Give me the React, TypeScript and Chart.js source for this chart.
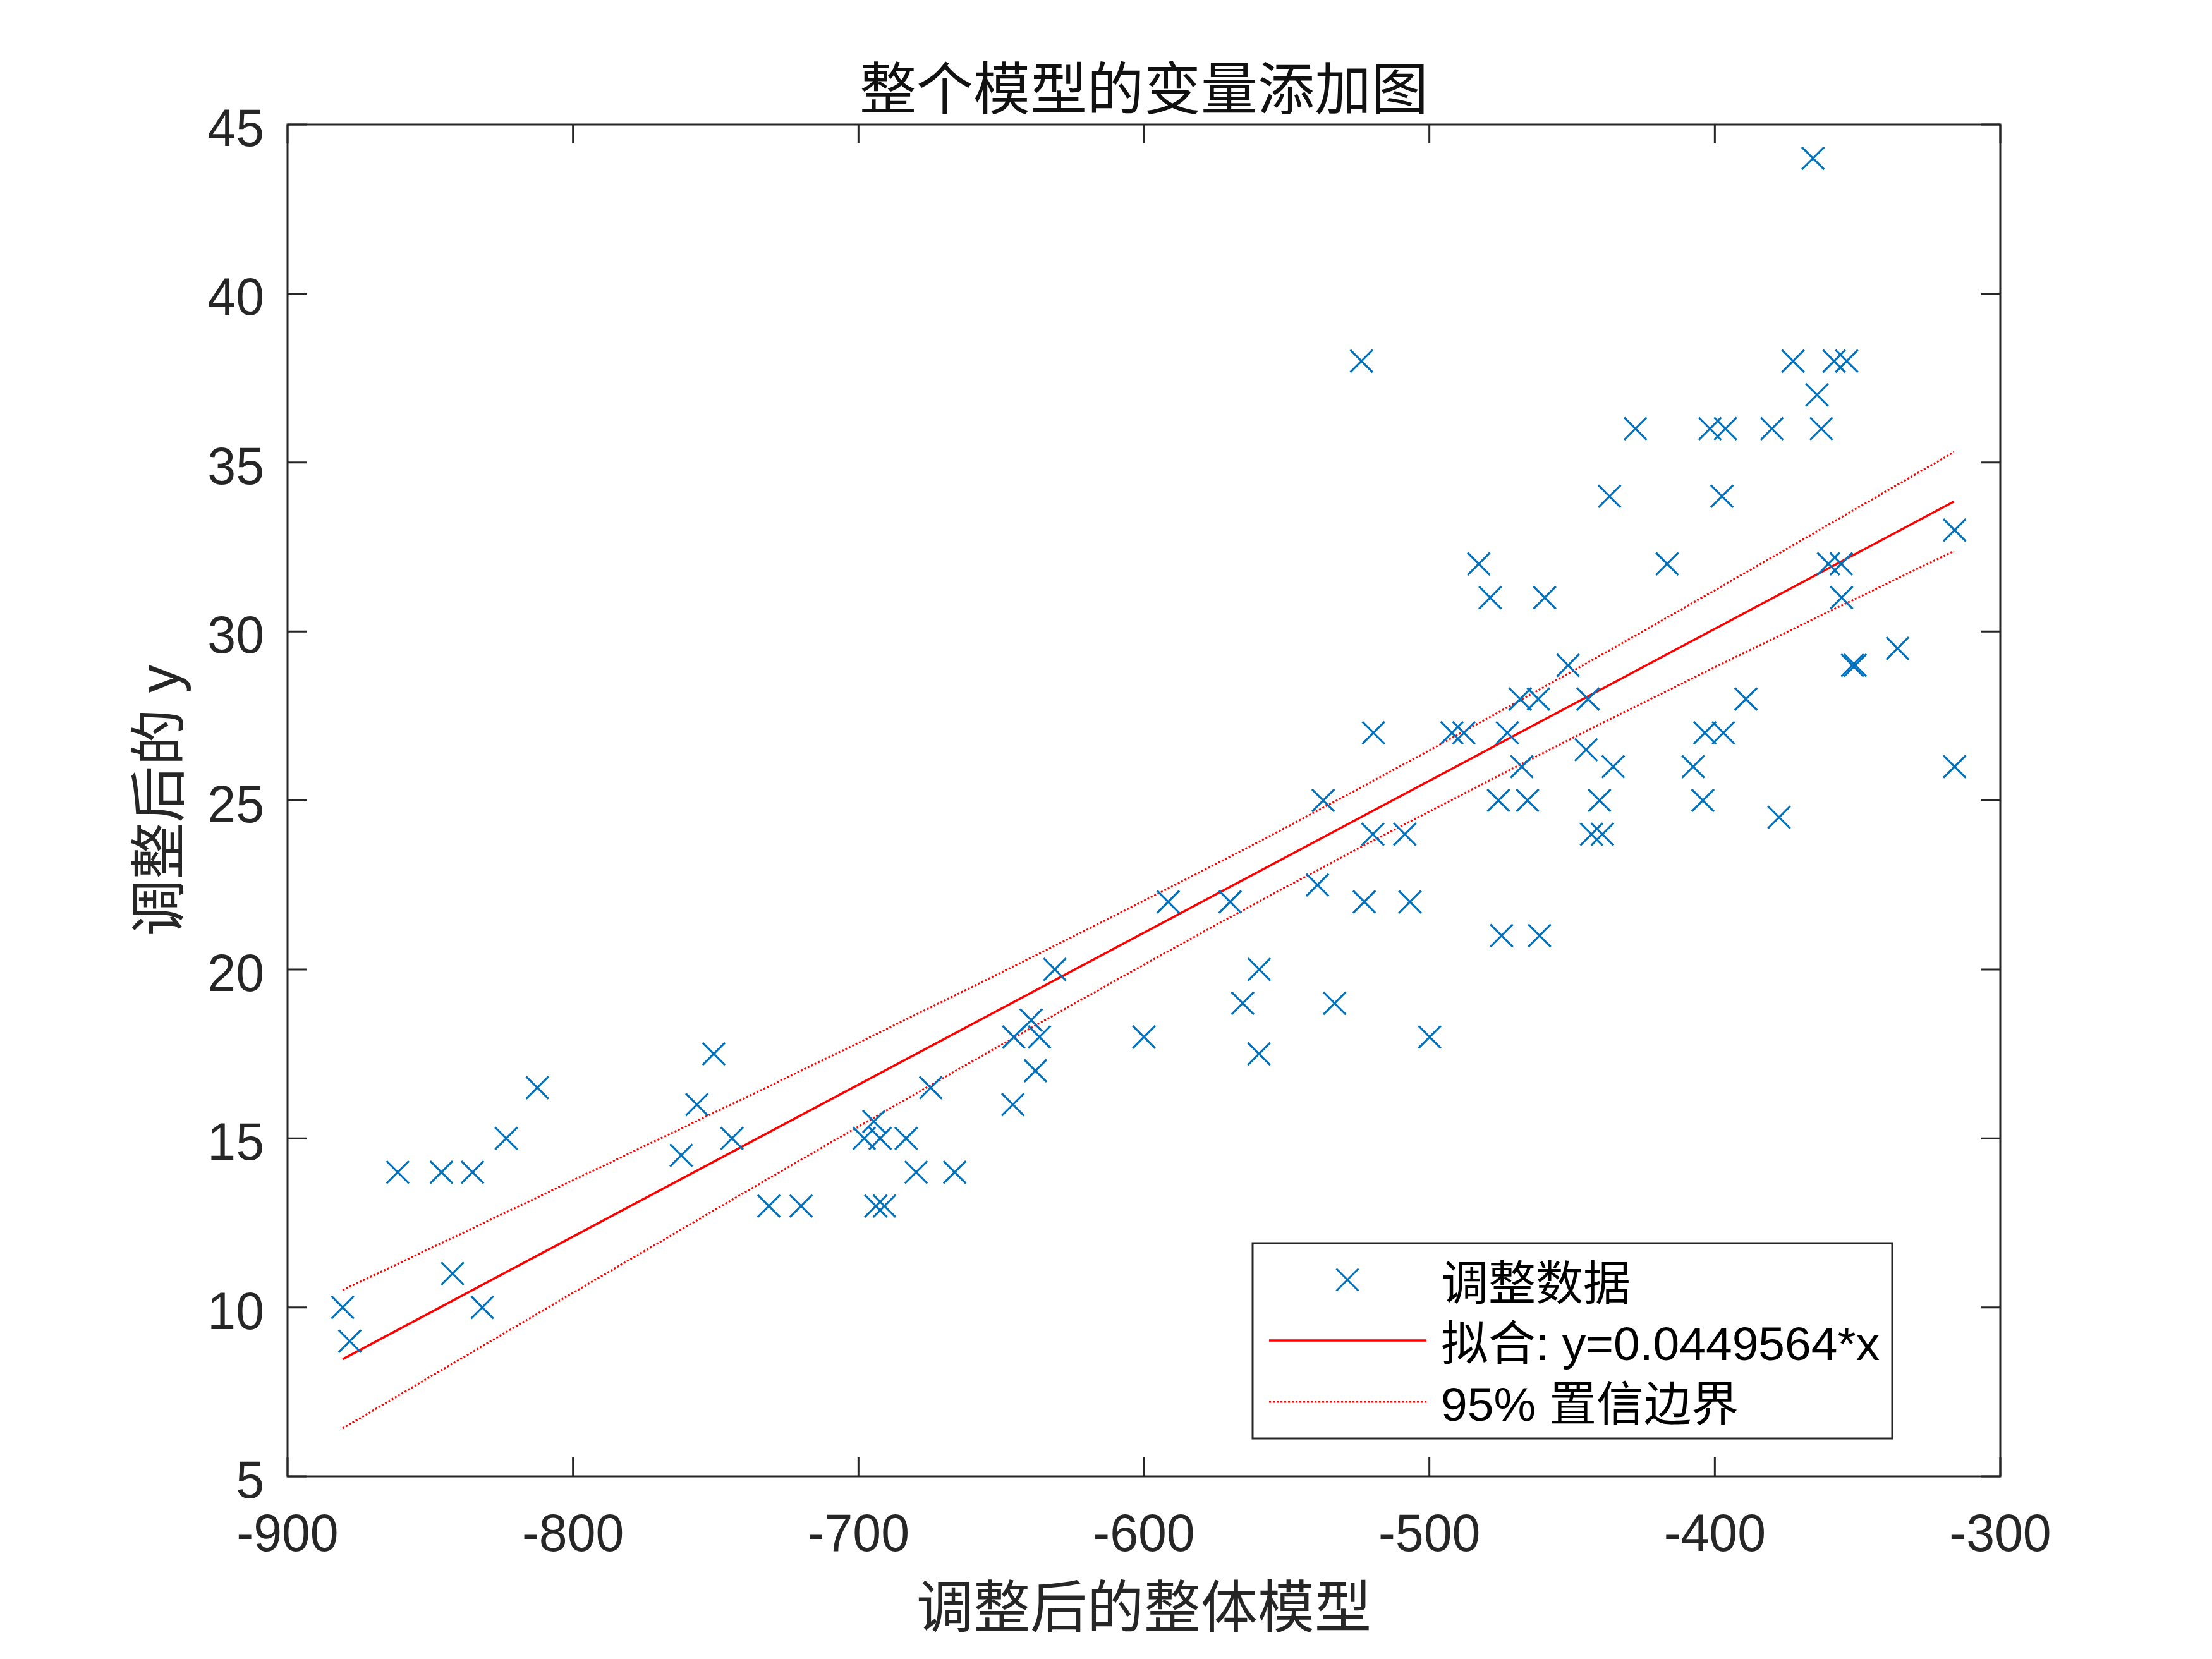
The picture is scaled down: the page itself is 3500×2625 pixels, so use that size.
import React, { useEffect, useRef } from "react";
import { Chart, registerables } from "chart.js";

Chart.register(...registerables);

// ---------- data ----------
const adjX = [
  -880.7, -878.2, -861.4, -846.1, -835.2, -842.2, -831.8, -823.4, -812.5, -762.1,
  -756.6, -750.7, -744.3, -731.4, -720.1, -698.0, -694.6, -692.4, -693.9, -690.9,
  -683.3, -679.8, -674.7, -666.3, -645.9, -645.6, -639.5, -636.6, -638.0, -631.2,
  -600.0, -591.5, -569.8, -565.4, -559.6, -559.7, -537.2, -539.2, -533.2, -523.8,
  -522.8, -519.6, -519.8, -508.6, -506.8, -499.9, -492.1, -487.9, -482.7, -478.7,
  -475.8, -474.7, -472.7, -468.2, -467.6, -465.6, -461.8, -461.4, -459.6, -451.4,
  -445.1, -444.4, -443.2, -440.4, -439.4, -436.9, -435.6, -427.8, -416.7, -407.6,
  -404.2, -403.5, -401.7, -397.0, -397.5, -396.3, -389.1, -380.0, -377.5, -372.6,
  -365.6, -364.2, -362.7, -360.2, -358.2, -355.7, -355.6, -353.8, -351.8, -350.8,
  -336.0, -316.0, -316.0,
];
const adjY = [
  10, 9, 14, 14, 14, 11, 10, 15, 16.5, 14.5,
  16, 17.5, 15, 13, 13, 15, 15.5, 15, 13, 13,
  15, 14, 16.5, 14, 16, 18, 18.5, 18, 17, 20,
  18, 22, 22, 19, 20, 17.5, 25, 22.5, 19, 38,
  22, 27, 24, 24, 22, 18, 27, 27, 32, 31,
  25, 21, 27, 28, 26, 25, 28, 21, 31, 29,
  26.5, 28, 24, 25, 24, 34, 26, 36, 32, 26,
  25, 27, 36, 27, 34, 36, 28, 36, 24.5, 38,
  44, 37, 36, 32, 38, 32, 31, 38, 29, 29,
  29.5, 33, 26,
];

const fitX = [-880.7, -316.2];
const fitY = [8.467, 33.845];

const ciX = [-880.7, -800, -700, -600, -536, -450, -400, -316.2];
const ciUpper = [10.51, 13.76, 17.83, 22.03, 24.84, 28.82, 31.22, 35.31];
const ciLower = [6.42, 10.43, 15.35, 20.14, 23.08, 26.84, 28.94, 32.38];

const xTicks = [-900, -800, -700, -600, -500, -400, -300];
const yTicks = [5, 10, 15, 20, 25, 30, 35, 40, 45];

const titleText = "整个模型的变量添加图";
const xLabelText = "调整后的整体模型";
const yLabelText = "调整后的 y";
const legendLabels = ["调整数据", "拟合: y=0.0449564*x", "95% 置信边界"];

// ---------- styling ----------
const W = 3500;
const H = 2625;
const AREA = { left: 455, top: 197, right: 3165, bottom: 2336 };
const AXIS_COLOR = "#262626";
const BLUE = "#0072BD";
const RED = "#FF0000";
const FONT = "'Liberation Sans', 'Noto Sans CJK SC', sans-serif";
const TICK_FONT = 84;
const TICK_SX = 0.96;

function drawScaledText(ctx: any, text: string, x: number, y: number, align: string, sx: number) {
  ctx.save();
  ctx.translate(x, y);
  ctx.scale(sx, 1);
  ctx.textAlign = align;
  ctx.fillText(text, 0, 0);
  ctx.restore();
}

const decorPlugin = {
  id: "decor",
  beforeDatasetsDraw(chart: any) {
    const ctx = chart.ctx;
    const { left, top, right, bottom } = chart.chartArea;
    const xs = chart.scales.x;
    const ys = chart.scales.y;
    ctx.save();
    ctx.strokeStyle = AXIS_COLOR;
    ctx.lineWidth = 3;
    ctx.beginPath();
    ctx.rect(left, top, right - left, bottom - top);
    ctx.stroke();
    const tl = 30;
    ctx.beginPath();
    xTicks.forEach((v) => {
      const px = xs.getPixelForValue(v);
      ctx.moveTo(px, bottom);
      ctx.lineTo(px, bottom - tl);
      ctx.moveTo(px, top);
      ctx.lineTo(px, top + tl);
    });
    yTicks.forEach((v) => {
      const py = ys.getPixelForValue(v);
      ctx.moveTo(left, py);
      ctx.lineTo(left + tl, py);
      ctx.moveTo(right, py);
      ctx.lineTo(right - tl, py);
    });
    ctx.stroke();

    // tick labels
    ctx.fillStyle = AXIS_COLOR;
    ctx.font = `${TICK_FONT}px ${FONT}`;
    ctx.textBaseline = "alphabetic";
    xTicks.forEach((v) => {
      const px = xs.getPixelForValue(v);
      drawScaledText(ctx, String(v), px, 2454, "center", TICK_SX);
    });
    yTicks.forEach((v) => {
      const py = ys.getPixelForValue(v);
      drawScaledText(ctx, String(v), 418, py + 34, "right", TICK_SX);
    });
    ctx.restore();
  },
  afterDraw(chart: any) {
    const ctx = chart.ctx;
    const { left, right, top, bottom } = chart.chartArea;
    const cx = (left + right) / 2;
    ctx.save();
    ctx.textBaseline = "alphabetic";
    ctx.textAlign = "center";
    ctx.font = `90px ${FONT}`;
    // title
    ctx.fillStyle = "#111111";
    ctx.fillText(titleText, cx, 173);
    // x label
    ctx.fillStyle = "#262626";
    ctx.fillText(xLabelText, cx, 2575);
    // y label
    ctx.save();
    ctx.translate(283, (top + bottom) / 2);
    ctx.rotate(-Math.PI / 2);
    ctx.fillText(yLabelText, 0, 0);
    ctx.restore();

    // legend
    const bx = 1982, by = 1967, bw = 1012, bh = 309;
    ctx.fillStyle = "#ffffff";
    ctx.fillRect(bx, by, bw, bh);
    ctx.strokeStyle = AXIS_COLOR;
    ctx.lineWidth = 3;
    ctx.strokeRect(bx, by, bw, bh);

    const rows = [2025, 2121, 2218];
    // marker
    ctx.strokeStyle = BLUE;
    ctx.lineWidth = 3;
    const mx = 2132, r = 17.5;
    ctx.beginPath();
    ctx.moveTo(mx - r, rows[0] - r);
    ctx.lineTo(mx + r, rows[0] + r);
    ctx.moveTo(mx + r, rows[0] - r);
    ctx.lineTo(mx - r, rows[0] + r);
    ctx.stroke();
    // solid line
    ctx.strokeStyle = RED;
    ctx.lineWidth = 3.5;
    ctx.beginPath();
    ctx.moveTo(2008, rows[1]);
    ctx.lineTo(2257, rows[1]);
    ctx.stroke();
    // dotted
    ctx.lineWidth = 3;
    ctx.setLineDash([3, 3]);
    ctx.beginPath();
    ctx.moveTo(2008, rows[2]);
    ctx.lineTo(2257, rows[2]);
    ctx.stroke();
    ctx.setLineDash([]);

    ctx.fillStyle = "#000000";
    ctx.textAlign = "left";
    ctx.textBaseline = "alphabetic";
    ctx.font = `75px ${FONT}`;
    const baselines = [2057, 2152, 2248];
    legendLabels.forEach((t, i) => ctx.fillText(t, 2280, baselines[i]));
    ctx.restore();
  },
};

export default function App() {
  const ref = useRef<HTMLCanvasElement | null>(null);

  useEffect(() => {
    if (!ref.current) return;
    const chart = new Chart(ref.current, {
      type: "scatter",
      data: {
        datasets: [
          {
            label: legendLabels[0],
            data: adjX.map((x, i) => ({ x, y: adjY[i] })),
            pointStyle: "crossRot",
            pointRadius: 25,
            pointHoverRadius: 25,
            pointBorderColor: BLUE,
            pointBackgroundColor: BLUE,
            pointBorderWidth: 3.2,
            borderColor: BLUE,
            showLine: false,
            order: 1,
          },
          {
            label: legendLabels[1],
            data: fitX.map((x, i) => ({ x, y: fitY[i] })),
            showLine: true,
            borderColor: RED,
            borderWidth: 3.5,
            pointRadius: 0,
            order: 2,
          },
          {
            label: legendLabels[2],
            data: ciX.map((x, i) => ({ x, y: ciUpper[i] })),
            showLine: true,
            borderColor: RED,
            borderWidth: 3,
            borderDash: [3, 3],
            pointRadius: 0,
            cubicInterpolationMode: "monotone",
            order: 3,
          },
          {
            label: "lower",
            data: ciX.map((x, i) => ({ x, y: ciLower[i] })),
            showLine: true,
            borderColor: RED,
            borderWidth: 3,
            borderDash: [3, 3],
            pointRadius: 0,
            cubicInterpolationMode: "monotone",
            order: 3,
          },
        ],
      },
      options: {
        responsive: false,
        animation: false,
        devicePixelRatio: 1,
        layout: {
          padding: { left: 0, top: AREA.top, right: W - AREA.right, bottom: 0 },
        },
        plugins: {
          legend: { display: false },
          title: { display: false },
          tooltip: { enabled: false },
        },
        scales: {
          x: {
            type: "linear",
            min: -900,
            max: -300,
            afterBuildTicks: (s: any) => {
              s.ticks = xTicks.map((v) => ({ value: v }));
            },
            afterFit: (s: any) => {
              s.height = H - AREA.bottom;
            },
            grid: { display: false, drawTicks: false },
            border: { display: false },
            ticks: { display: false },
          },
          y: {
            type: "linear",
            min: 5,
            max: 45,
            afterBuildTicks: (s: any) => {
              s.ticks = yTicks.map((v) => ({ value: v }));
            },
            afterFit: (s: any) => {
              s.width = AREA.left;
            },
            grid: { display: false, drawTicks: false },
            border: { display: false },
            ticks: { display: false },
          },
        },
      },
      plugins: [decorPlugin],
    });
    return () => chart.destroy();
  }, []);

  return (
    <div style={{ position: "absolute", left: 0, top: 0, width: W, height: H, background: "#fff" }}>
      <canvas ref={ref} width={W} height={H} style={{ display: "block", width: W, height: H }} />
    </div>
  );
}
